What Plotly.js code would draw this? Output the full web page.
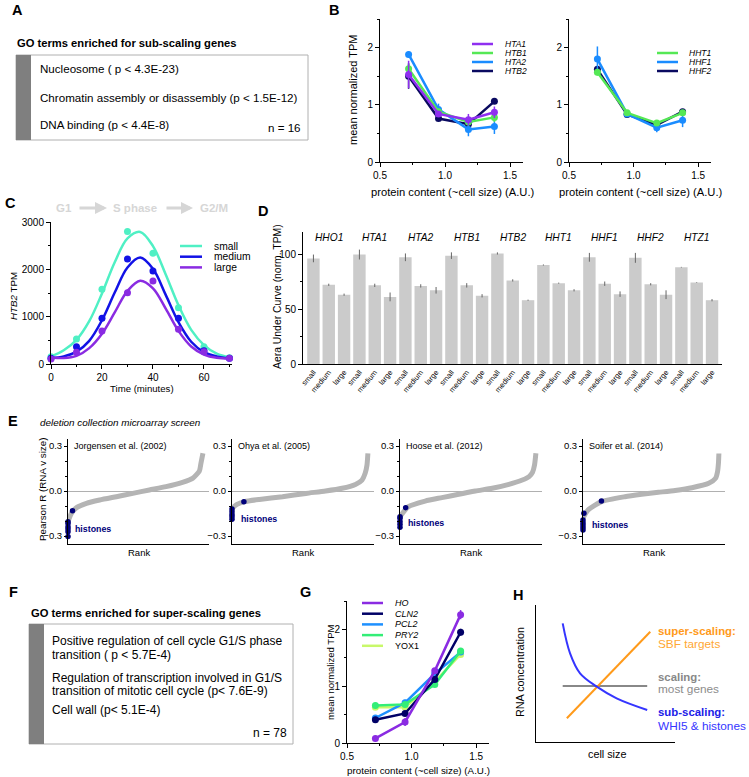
<!DOCTYPE html>
<html>
<head>
<meta charset="utf-8">
<script src="https://cdn.plot.ly/plotly-3.0.1.min.js"></script>
<style>body{margin:0;background:#fff}#fig{width:749px;height:777px}</style>
</head>
<body>
<div id="fig"></div>
<script>
// ---------- data ----------
// B / G: protein content bins
var sizeX = [0.72, 0.95, 1.18, 1.38];

var bLeftGenes = ["HTA1", "HTB1", "HTA2", "HTB2"];
var bLeftColors = ["#8f2ff0", "#55e855", "#1a8cff", "#0a0a60"];
var HTA1 = [1.53, 0.84, 0.74, 0.87], HTA1err = [0.24, 0.05, 0.1, 0.1];
var HTB1 = [1.63, 0.88, 0.70, 0.78], HTB1err = [0.1, 0.05, 0.05, 0.08];
var HTA2 = [1.88, 0.92, 0.57, 0.62], HTA2err = [0.05, 0.1, 0.12, 0.13];
var HTB2 = [1.50, 0.76, 0.66, 1.06], HTB2err = [0.22, 0.04, 0.06, 0.03];

var bRightGenes = ["HHT1", "HHF1", "HHF2"];
var bRightColors = ["#55e855", "#1a8cff", "#0a0a60"];
var HHT1 = [1.57, 0.86, 0.68, 0.86], HHT1err = [0.06, 0.03, 0.04, 0.05];
var HHF1 = [1.80, 0.84, 0.60, 0.73], HHF1err = [0.22, 0.03, 0.08, 0.12];
var HHF2 = [1.62, 0.83, 0.65, 0.88], HHF2err = [0.05, 0.03, 0.04, 0.04];

// C: HTB2 time course
var timeC = [0, 10, 20, 30, 40, 50, 60, 70];
var smallTPM = [155, 530, 1580, 2800, 2340, 1190, 366, 134];
var mediumTPM = [120, 366, 965, 2218, 1965, 965, 282, 120];
var largeTPM = [106, 246, 697, 1507, 1754, 732, 260, 120];
var fitTime = [0, 5, 10, 15, 20, 25, 30, 35, 40, 45, 50, 55, 60, 65, 70];
var smallFit = [160, 290, 510, 905, 1490, 2150, 2655, 2790, 2490, 1890, 1240, 720, 400, 220, 140];
var mediumFit = [125, 160, 260, 490, 925, 1510, 2040, 2250, 2010, 1460, 885, 470, 250, 160, 120];
var largeFit = [140, 125, 170, 335, 640, 1090, 1545, 1760, 1600, 1170, 700, 370, 200, 130, 115];
var cNames = ["small", "medium", "large"];
var cColors = ["#4ff0c4", "#1212e6", "#8a2be2"];

// D: area under curve
var dGenes = ["HHO1", "HTA1", "HTA2", "HTB1", "HTB2", "HHT1", "HHF1", "HHF2", "HTZ1"];
var dSizes = ["small", "medium", "large"];
var dSmall = [96, 99.5, 97, 98.5, 100.5, 90, 97, 96.5, 88];
var dMedium = [72, 71.5, 71, 71.5, 76, 73.5, 73, 72.5, 74];
var dLarge = [63, 61, 67, 62, 58, 67, 63.5, 63, 58];
var dSmallErr = [3.5, 4.5, 3.5, 3, 1, 0.5, 4, 4.5, 0.3];
var dMediumErr = [1, 1.5, 1.5, 2, 1, 0.5, 2, 1, 0.3];
var dLargeErr = [1, 4, 3, 1.5, 0.5, 1, 2.5, 4, 1];

// E: ranked Pearson R, four screens
var jorgensenRank = [0, 150, 380, 820, 1410, 2150, 2880, 3620, 4360, 5090, 5540, 5840, 5910, 6000];
var jorgensenR = [-0.204, -0.149, -0.111, -0.082, -0.06, -0.038, -0.016, 0.007, 0.029, 0.058, 0.084, 0.133, 0.184, 0.251];
var ohyaRank = [0, 220, 555, 1210, 2230, 3260, 4130, 4860, 5450, 5740, 5880, 5960, 6000];
var ohyaR = [-0.116, -0.089, -0.071, -0.056, -0.038, -0.016, 0, 0.018, 0.044, 0.073, 0.118, 0.173, 0.251];
var hooseRank = [0, 370, 1110, 1850, 2590, 3330, 4070, 4810, 5400, 5700, 5850, 5940, 6000];
var hooseR = [-0.171, -0.104, -0.067, -0.044, -0.022, 0, 0.018, 0.044, 0.073, 0.096, 0.124, 0.173, 0.251];
var soiferRank = [0, 222, 814, 1850, 2590, 3330, 4070, 4810, 5550, 5850, 5940, 5980, 6000];
var soiferR = [-0.18, -0.127, -0.071, -0.038, -0.022, -0.009, 0.004, 0.022, 0.051, 0.084, 0.129, 0.184, 0.25];

var jorgensenHistRank = [0, 0, 0, 0, 0, 0, 200];
var jorgensenHistR = [-0.205, -0.216, -0.238, -0.253, -0.271, -0.304, -0.131];
var ohyaHistRank = [0, 0, 0, 0, 0, 525];
var ohyaHistR = [-0.12, -0.138, -0.156, -0.171, -0.189, -0.071];
var hooseHistRank = [0, 0, 0, 0, 0, 250];
var hooseHistR = [-0.171, -0.182, -0.204, -0.222, -0.242, -0.111];
var soiferHistRank = [40, 0, 0, 0, 0, 0, 815];
var soiferHistR = [-0.149, -0.193, -0.211, -0.227, -0.244, -0.26, -0.067];
var eStudies = ["Jorgensen et al. (2002)", "Ohya et al. (2005)", "Hoose et al. (2012)", "Soifer et al. (2014)"];

// G: super-scaling genes
var gGenes = ["HO", "CLN2", "PCL2", "PRY2", "YOX1"];
var gColors = ["#8a2be2", "#000066", "#1e90ff", "#33ee77", "#c8f86a"];
var HO = [0.08, 0.37, 1.27, 2.26], HOerr = [0.03, 0.07, 0.05, 0.08];
var CLN2 = [0.41, 0.52, 1.12, 1.95], CLN2err = [0.03, 0.03, 0.05, 0.06];
var PCL2 = [0.44, 0.71, 1.22, 1.60], PCL2err = [0.02, 0.05, 0.04, 0.04];
var PRY2 = [0.66, 0.68, 1.03, 1.62], PRY2err = [0.02, 0.03, 0.04, 0.04];
var YOX1 = [0.63, 0.63, 1.08, 1.56], YOX1err = [0.02, 0.03, 0.04, 0.04];

// H: cartoon
var hSubX = [1.92, 2.45, 3.17, 4.37, 5.8, 8.0];
var hSubY = [8.66, 6.47, 5.01, 4.04, 3.19, 2.34];
var hScalingX = [1.92, 8.0];
var hScalingY = [4.09, 4.09];
var hSuperX = [2.22, 8.22];
var hSuperY = [1.73, 8.05];

// ---------- helpers ----------
var F = "Liberation Sans, Arial, sans-serif";
var W = 749, H = 777;
function px(x) { return x / W; }
function py(y) { return 1 - y / H; }
function domX(a, b) { return [a / W, b / W]; }
function domY(top, bot) { return [1 - bot / H, 1 - top / H]; }

function axis(dom, anchor, extra) {
    var a = {
        domain: dom, anchor: anchor, showline: true, linecolor: "#000", linewidth: 1,
        ticks: "outside", ticklen: 4, tickcolor: "#000", showgrid: false, zeroline: false,
        tickfont: {size: 10, family: F, color: "#000"}, fixedrange: true
    };
    for (var k in extra) a[k] = extra[k];
    return a;
}

var traces = [];
var annotations = [];
var shapes = [];

function txt(x, y, text, opts) {
    var a = {xref: "paper", yref: "paper", x: px(x), y: py(y), text: text, showarrow: false,
        xanchor: "left", yanchor: "middle", font: {family: F, size: 10, color: "#000"}};
    for (var k in opts) {
        if (k === "font") { for (var f in opts.font) a.font[f] = opts.font[f]; }
        else a[k] = opts[k];
    }
    annotations.push(a);
}

function lineSeries(xs, ys, errs, color, xa, ya, width) {
    traces.push({
        x: xs, y: ys, xaxis: xa, yaxis: ya, type: "scatter", mode: "lines+markers",
        line: {color: color, width: width || 2.5}, marker: {color: color, size: 7},
        error_y: {type: "data", array: errs, color: color, thickness: 1.5, width: 0},
        showlegend: false, hoverinfo: "skip"
    });
}

function legend(names, colors, x0, x1, xt, y0, step, size, italic) {
    names.forEach(function (n, i) {
        var y = y0 + i * step;
        shapes.push({type: "line", xref: "paper", yref: "paper", x0: px(x0), x1: px(x1), y0: py(y), y1: py(y),
            line: {color: colors[i], width: 2.5}});
        txt(xt, y, italic ? "<i>" + n + "</i>" : n, {font: {size: size}});
    });
}

// ---------- B ----------
var bLeftData = [[HTB2, HTB2err], [HTA2, HTA2err], [HTB1, HTB1err], [HTA1, HTA1err]];
[3, 2, 1, 0].forEach(function (gi, k) {
    lineSeries(sizeX, bLeftData[k][0], bLeftData[k][1], bLeftColors[gi], "x", "y");
});
var bRightData = [[HHF2, HHF2err], [HHF1, HHF1err], [HHT1, HHT1err]];
[2, 1, 0].forEach(function (gi, k) {
    lineSeries(sizeX, bRightData[k][0], bRightData[k][1], bRightColors[gi], "x2", "y2");
});
legend(bLeftGenes, bLeftColors, 472, 493, 503, 44, 9, 8.5, true);
legend(bRightGenes, bRightColors, 657, 678, 687, 53, 9, 8.5, true);

// ---------- C ----------
var cPts = [smallTPM, mediumTPM, largeTPM];
var cFits = [smallFit, mediumFit, largeFit];
cNames.forEach(function (n, i) {
    traces.push({x: fitTime, y: cFits[i], xaxis: "x3", yaxis: "y3", type: "scatter", mode: "lines",
        line: {color: cColors[i], width: 2.5, shape: "spline", smoothing: 1}, showlegend: false, hoverinfo: "skip"});
    traces.push({x: timeC, y: cPts[i], xaxis: "x3", yaxis: "y3", type: "scatter", mode: "markers",
        marker: {color: cColors[i], size: 7}, showlegend: false, hoverinfo: "skip", cliponaxis: false});
});
legend(cNames, cColors, 180, 202, 212, 246, 10.7, 10.3, false);

// ---------- D ----------
var dCats = [], dVals = [], dErrs = [], dTicks = [];
dGenes.forEach(function (g, i) {
    var v = [dSmall[i], dMedium[i], dLarge[i]];
    var e = [dSmallErr[i], dMediumErr[i], dLargeErr[i]];
    dSizes.forEach(function (s, j) {
        dCats.push(g + " " + s);
        dTicks.push(s);
        dVals.push(v[j]);
        dErrs.push(e[j]);
    });
});
traces.push({x: dCats, y: dVals, xaxis: "x4", yaxis: "y4", type: "bar",
    marker: {color: "#cbcbcb"}, error_y: {type: "data", array: dErrs, color: "#666", thickness: 1, width: 0},
    showlegend: false, hoverinfo: "skip"});
dGenes.forEach(function (g) {
    annotations.push({xref: "x4", yref: "y4", x: g + " medium", y: 115, text: "<i>" + g + "</i>",
        showarrow: false, font: {family: F, size: 10.2, color: "#000"}});
});

// ---------- E ----------
var eLines = [[jorgensenRank, jorgensenR], [ohyaRank, ohyaR], [hooseRank, hooseR], [soiferRank, soiferR]];
var eHist = [[jorgensenHistRank, jorgensenHistR], [ohyaHistRank, ohyaHistR], [hooseHistRank, hooseHistR], [soiferHistRank, soiferHistR]];
var eLeft = [68, 232, 400, 583];
var eRight = [209, 374, 542, 725];
eLines.forEach(function (d, i) {
    var xa = "x" + (5 + i), ya = "y" + (5 + i);
    traces.push({x: d[0], y: d[1], xaxis: xa, yaxis: ya, type: "scatter", mode: "lines",
        line: {color: "#b4b4b4", width: 5, shape: "spline", smoothing: 0.6}, showlegend: false, hoverinfo: "skip"});
    traces.push({x: eHist[i][0], y: eHist[i][1], xaxis: xa, yaxis: ya, type: "scatter", mode: "markers",
        marker: {color: "#00007a", size: 5.5}, cliponaxis: false, showlegend: false, hoverinfo: "skip"});
    txt(eLeft[i] + 4, 446, eStudies[i], {font: {size: 9}});
    txt((eLeft[i] + eRight[i]) / 2, 552, "Rank", {xanchor: "center", font: {size: 9.5}});
});
var histFont = {size: 8.8, color: "#00007a"};
txt(73, 529, "<b>histones</b>", {font: histFont});
txt(239, 519, "<b>histones</b>", {font: histFont});
txt(406, 523, "<b>histones</b>", {font: histFont});
txt(590, 525, "<b>histones</b>", {font: histFont});

// ---------- G ----------
var gData = [[YOX1, YOX1err, 4], [PCL2, PCL2err, 2], [PRY2, PRY2err, 3], [CLN2, CLN2err, 1], [HO, HOerr, 0]];
gData.forEach(function (d) {
    lineSeries(sizeX, d[0], d[1], gColors[d[2]], "x9", "y9");
});
gGenes.forEach(function (g, i) {
    var y = 603 + i * 10.7;
    shapes.push({type: "line", xref: "paper", yref: "paper", x0: px(362), x1: px(383), y0: py(y), y1: py(y),
        line: {color: gColors[i], width: 2.5}});
    txt(393, y, g === "YOX1" ? g : "<i>" + g + "</i>", {font: {size: 9}});
});

// ---------- H ----------
traces.push({x: hScalingX, y: hScalingY, xaxis: "x10", yaxis: "y10", type: "scatter", mode: "lines",
    line: {color: "#888", width: 2}, showlegend: false, hoverinfo: "skip"});
traces.push({x: hSuperX, y: hSuperY, xaxis: "x10", yaxis: "y10", type: "scatter", mode: "lines",
    line: {color: "#ff9a1a", width: 2}, showlegend: false, hoverinfo: "skip"});
traces.push({x: hSubX, y: hSubY, xaxis: "x10", yaxis: "y10", type: "scatter", mode: "lines",
    line: {color: "#3535ff", width: 2, shape: "spline", smoothing: 1}, showlegend: false, hoverinfo: "skip"});
txt(656, 631, "<b>super-scaling:</b>", {font: {size: 11.4, color: "#ff9a1a"}});
txt(656, 644, "SBF targets", {font: {size: 11.8, color: "#ffa733"}});
txt(656, 677, "<b>scaling:</b>", {font: {size: 11.4, color: "#888"}});
txt(656, 689, "most genes", {font: {size: 11.8, color: "#8c8c8c"}});
txt(656, 712, "<b>sub-scaling:</b>", {font: {size: 11.4, color: "#2020e8"}});
txt(656, 726, "WHI5 &amp; histones", {font: {size: 11.8, color: "#3535ff"}});

// ---------- A and F text boxes ----------
shapes.push({type: "rect", xref: "paper", yref: "paper", x0: px(16), x1: px(308), y0: py(140), y1: py(55),
    line: {color: "#b0b0b0", width: 1}, fillcolor: "#fff"});
shapes.push({type: "rect", xref: "paper", yref: "paper", x0: px(16), x1: px(31), y0: py(140), y1: py(55),
    line: {width: 0}, fillcolor: "#7f7f7f"});
txt(15, 43, "<b>GO terms enriched for sub-scaling genes</b>", {font: {size: 11.2}});
txt(38, 68, "Nucleosome ( p &lt; 4.3E-23)", {font: {size: 11.6}});
txt(38, 97, "Chromatin assembly or disassembly (p &lt; 1.5E-12)", {font: {size: 11.6}});
txt(38, 125, "DNA binding (p &lt; 4.4E-8)", {font: {size: 11.6}});
txt(303, 128, "n = 16", {xanchor: "right", font: {size: 11.6}});

shapes.push({type: "rect", xref: "paper", yref: "paper", x0: px(29), x1: px(293), y0: py(744), y1: py(624),
    line: {color: "#b0b0b0", width: 1}, fillcolor: "#fff"});
shapes.push({type: "rect", xref: "paper", yref: "paper", x0: px(29), x1: px(44), y0: py(744), y1: py(624),
    line: {width: 0}, fillcolor: "#7f7f7f"});
txt(29, 613, "<b>GO terms enriched for super-scaling genes</b>", {font: {size: 11.2}});
txt(50, 641, "Positive regulation of cell cycle G1/S phase", {font: {size: 12}});
txt(50, 655, "transition ( p &lt; 5.7E-4)", {font: {size: 12}});
txt(50, 678, "Regulation of transcription involved in G1/S", {font: {size: 12}});
txt(50, 691, "transition of mitotic cell cycle (p&lt; 7.6E-9)", {font: {size: 12}});
txt(50, 710, "Cell wall (p&lt; 5.1E-4)", {font: {size: 12}});
txt(289, 733, "n = 78", {xanchor: "right", font: {size: 12}});

// ---------- panel letters ----------
[["A", 10, 10], ["B", 327, 10], ["C", 3, 203], ["D", 256, 211], ["E", 6, 421], ["F", 7, 592], ["G", 298, 592], ["H", 511, 595]]
    .forEach(function (l) { txt(l[1], l[2], "<b>" + l[0] + "</b>", {font: {size: 14.5}}); });

// ---------- axis titles ----------
txt(452, 192, "protein content (~cell size) (A.U.)", {xanchor: "center", font: {size: 11.2}});
txt(640, 192, "protein content (~cell size) (A.U.)", {xanchor: "center", font: {size: 11.2}});
txt(353, 90, "mean normalized TPM", {xanchor: "center", textangle: -90, font: {size: 11}});
txt(13, 296, "<i>HTB2</i> TPM", {xanchor: "center", textangle: -90, font: {size: 9.8}});
txt(142, 388, "Time (minutes)", {xanchor: "center", font: {size: 9.6}});
txt(277, 297, "Aera Under Curve (norm. TPM)", {xanchor: "center", textangle: -90, font: {size: 10.4}});
txt(42, 490, "Pearson R (RNA v size)", {xanchor: "center", textangle: -90, font: {size: 9.8}});
txt(38, 422, "<i>deletion collection microarray screen</i>", {font: {size: 9.9}});
txt(418, 770, "protein content (~cell size) (A.U.)", {xanchor: "center", font: {size: 9.8}});
txt(330, 673, "mean normalized TPM", {xanchor: "center", textangle: -90, font: {size: 9.5}});
txt(520, 672, "RNA concentration", {xanchor: "center", textangle: -90, font: {size: 10.8}});
txt(607, 754, "cell size", {xanchor: "center", font: {size: 10.8}});

// C: cell cycle header
var grey = "#d6d6d6";
txt(64, 208, "<b>G1</b>", {xanchor: "center", font: {size: 11.5, color: grey}});
txt(135, 208, "<b>S phase</b>", {xanchor: "center", font: {size: 11.5, color: grey}});
txt(214, 208, "<b>G2/M</b>", {xanchor: "center", font: {size: 11.5, color: grey}});
[[107, 29], [193, 28]].forEach(function (a) {
    annotations.push({xref: "paper", yref: "paper", x: px(a[0]), y: py(208), ax: -a[1], ay: 0, text: "",
        showarrow: true, arrowhead: 2, arrowsize: 0.8, arrowwidth: 3, arrowcolor: grey});
});

// ---------- layout ----------
var bY = {range: [0, 2.5], tickvals: [0, 1, 2], minor: {dtick: 0.5, ticklen: 2, tickcolor: "#000", ticks: "outside"}};
var bX = {range: [0.5, 1.6], tickvals: [0.5, 1, 1.5], tickformat: ".1f", minor: {dtick: 0.25, ticklen: 2, tickcolor: "#000", ticks: "outside"}};
var eY = {range: [-0.35, 0.35], tickvals: [-0.3, 0, 0.3], tickformat: ".1f", ticklen: 3, tickfont: {size: 9.5, family: F, color: "#000"},
    zeroline: true, zerolinecolor: "#b0b0b0", zerolinewidth: 1,
    minor: {dtick: 0.1, ticklen: 2, tickcolor: "#000", ticks: "outside"}};
var eX = {range: [0, 6270], ticks: "", showticklabels: false};

var layout = {
    width: W, height: H, margin: {l: 0, r: 0, t: 0, b: 0},
    paper_bgcolor: "#fff", plot_bgcolor: "rgba(0,0,0,0)",
    font: {family: F, size: 10, color: "#000"},
    showlegend: false, bargap: 0.19,
    xaxis: axis(domX(380, 523), "y", bX),
    yaxis: axis(domY(19, 162), "x", bY),
    xaxis2: axis(domX(569, 711), "y2", bX),
    yaxis2: axis(domY(19, 162), "x2", bY),
    xaxis3: axis(domX(51, 232), "y3", {range: [0, 71], tickvals: [0, 20, 40, 60],
        minor: {dtick: 10, ticklen: 2, tickcolor: "#000", ticks: "outside"}}),
    yaxis3: axis(domY(222, 364), "x3", {range: [0, 3000], tickvals: [0, 1000, 2000, 3000],
        minor: {dtick: 500, ticklen: 2, tickcolor: "#000", ticks: "outside"}}),
    xaxis4: axis(domX(303, 722), "y4", {type: "category", categoryorder: "array", categoryarray: dCats,
        range: [-0.68, 26.65], tickvals: dCats, ticktext: dTicks, tickangle: -50, ticks: "",
        tickfont: {size: 7.5, family: F, color: "#000"}}),
    yaxis4: axis(domY(232, 364), "x4", {range: [0, 120], tickvals: [0, 50, 100],
        minor: {dtick: 25, ticklen: 2, tickcolor: "#000", ticks: "outside"}}),
    xaxis9: axis(domX(347, 489), "y9", bX),
    yaxis9: axis(domY(601, 743), "x9", bY),
    xaxis10: axis(domX(536, 675), "y10", {range: [0, 10], ticks: "", showticklabels: false}),
    yaxis10: axis(domY(605, 742), "x10", {range: [0, 10], ticks: "", showticklabels: false}),
    annotations: annotations, shapes: shapes
};
for (var i = 0; i < 4; i++) {
    layout["xaxis" + (5 + i)] = axis(domX(eLeft[i], eRight[i]), "y" + (5 + i), eX);
    layout["yaxis" + (5 + i)] = axis(domY(438.5, 543.5), "x" + (5 + i), eY);
}

Plotly.newPlot("fig", traces, layout, {displayModeBar: false, staticPlot: true});
</script>
</body>
</html>
